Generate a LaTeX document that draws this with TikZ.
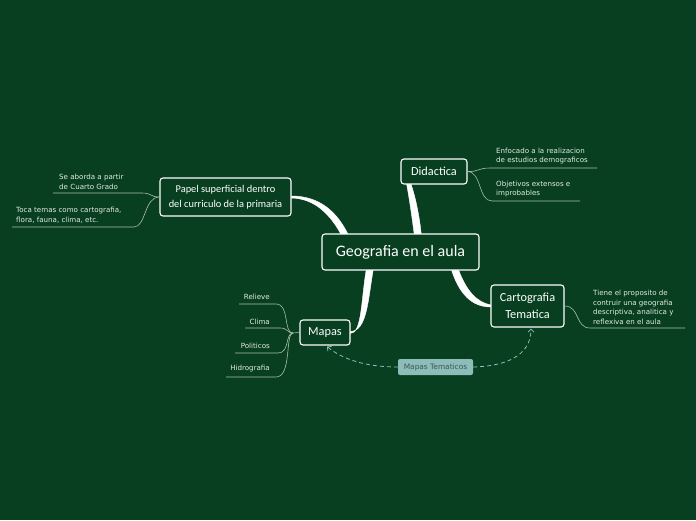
\documentclass[tikz,border=0pt]{standalone}
\usepackage{fontspec}
\setmainfont{DejaVu Sans}
\newfontfamily\hand{Carlito}
\usetikzlibrary{arrows.meta,calc}
\definecolor{bg}{HTML}{073F20}
\definecolor{leafline}{HTML}{A9BFA6}
\definecolor{leaftext}{HTML}{E4ECE2}
\definecolor{teal}{HTML}{8CBDB9}
\definecolor{tealtext}{HTML}{3E5656}
\tikzset{
  mainbox/.style={draw=white, line width=1.1pt, rounded corners=3pt, fill=bg, text=white, align=center, inner sep=1pt},
  leaf/.style={text=leaftext, align=left, inner sep=0pt, font=\fontsize{7.1}{9.5}\selectfont},
  leafr/.style={text=leaftext, align=right, inner sep=0pt, font=\fontsize{7.1}{9.5}\selectfont},
  branch/.style={fill=white, draw=white, line width=0.4pt},
  twig/.style={leafline, line width=0.6pt},
  dashlink/.style={teal, line width=0.8pt, dashed, dash pattern=on 4pt off 3pt, -{Straight Barb[length=3pt,width=6pt]}},
}
\begin{document}
\begin{tikzpicture}[x=1pt,y=-1pt]
\fill[bg] (0,0) rectangle (696,520);
\useasboundingbox (0,0) rectangle (696,520);

% main nodes (positions)
\coordinate (pc) at (400.5,252);
\coordinate (pp) at (225.5,197);
\coordinate (pd) at (434,171.5);
\coordinate (pt) at (527.5,306);
\coordinate (pm) at (325,332.5);

% invisible placeholders for branch anchors
\path (pc) node[minimum width=157pt, minimum height=36pt, inner sep=0pt] (c0) {};
\path (pp) node[minimum width=131pt, minimum height=38pt, inner sep=0pt] (p0) {};
\path (pd) node[minimum width=66pt, minimum height=25pt, inner sep=0pt] (d0) {};
\path (pt) node[minimum width=73pt, minimum height=42pt, inner sep=0pt] (t0) {};
\path (pm) node[minimum width=50pt, minimum height=25pt, inner sep=0pt] (m0) {};

\coordinate (cp) at ($(c0.north west)+(23,1)$);
\coordinate (cd) at ($(c0.north west)+(96,1)$);
\coordinate (ct) at ($(c0.south west)+(133,-1)$);
\coordinate (cm) at ($(c0.south west)+(48,-1)$);
\coordinate (dd) at ($(d0.west)+(4,1)$);

% tapered branches
\path[branch] ($(p0.east)+(0,-1)$) .. controls (320,196) and (337,212) .. ($(cp)+(3.5,0)$)
  -- ($(cp)+(-3.5,0)$) .. controls (331,216) and (316,198.5) .. ($(p0.east)+(0,1)$) -- cycle;
\path[branch] ($(dd)+(1,0)$) .. controls (412,182) and (419,210) .. ($(cd)+(3.5,0)$)
  -- ($(cd)+(-3.5,0)$) .. controls (411,210) and (407,182) .. ($(dd)+(-1,0)$) -- cycle;
\path[branch] ($(ct)+(-3.5,0)$) .. controls (459,294) and (472,307) .. ($(t0.west)+(0,1)$)
  -- ($(t0.west)+(0,-1)$) .. controls (476,302) and (466,290) .. ($(ct)+(3.5,0)$) -- cycle;
\path[branch] ($(cm)+(-3.5,0)$) .. controls (361,300) and (362,333.5) .. ($(m0.east)+(0,1)$)
  -- ($(m0.east)+(0,-1)$) .. controls (367,331.5) and (368,300) .. ($(cm)+(3.5,0)$) -- cycle;

\node[mainbox, minimum width=157pt, minimum height=36pt, font=\hand\fontsize{16}{18}\selectfont] (center) at (pc) {Geografia en el aula};
\node[mainbox, minimum width=131pt, minimum height=38pt, font=\hand\fontsize{10.4}{14.5}\selectfont] (papel) at (pp) {Papel superficial dentro\\del curriculo de la primaria};
\node[mainbox, minimum width=66pt, minimum height=25pt, font=\hand\fontsize{12.3}{14}\selectfont] (did) at (pd) {Didactica};
\node[mainbox, minimum width=73pt, minimum height=42pt, font=\hand\fontsize{12.3}{16.5}\selectfont] (carto) at (pt) {Cartografia\\Tematica};
\node[mainbox, minimum width=50pt, minimum height=25pt, font=\hand\fontsize{12.3}{14}\selectfont] (mapas) at (pm) {Mapas};

% Papel leaves
\node[leaf, anchor=south west] (l1) at (59,189.5) {Se aborda a partir\\de Cuarto Grado};
\coordinate (u1a) at (53,193);
\node[leaf, anchor=south west] (l2) at (16,223.5) {Toca temas como cartografia,\\flora, fauna, clima, etc.};
\coordinate (u2a) at (12,227);
\draw[twig] (u1a) -- (142,193) .. controls (152,193) and (150,197) .. (papel.west);
\draw[twig] (u2a) -- (134,227) .. controls (146,227) and (144,197) .. (papel.west);

% Didactica leaves
\node[leaf, anchor=south west] (l3) at (496,164.5) {Enfocado a la realizacion\\de estudios demograficos};
\coordinate (u3b) at (597,168);
\node[leaf, anchor=south west] (l4) at (496,197.5) {Objetivos extensos e\\improbables};
\coordinate (u4b) at (580,201);
\draw[twig] (did.east) .. controls (478,172) and (478,168) .. (490,168) -- (u3b);
\draw[twig] (did.east) .. controls (482,172) and (478,201) .. (492,201) -- (u4b);

% Cartografia leaf
\node[leaf, anchor=south west] (l5) at (593,324.5) {Tiene el proposito de\\contruir una geografia\\descriptiva, analitica y\\reflexiva en el aula};
\coordinate (u5b) at (685,328);
\draw[twig] (carto.east) .. controls (580,306) and (575,328) .. (590,328) -- (u5b);

% Mapas leaves
\coordinate (mj) at (293,333);
\draw[twig] (mj) -- (mapas.west);
\node[leafr, anchor=south east] (r1) at (270,300) {Relieve};
\node[leafr, anchor=south east] (r2) at (270,324.5) {Clima};
\node[leafr, anchor=south east] (r3) at (270,348.5) {Politicos};
\node[leafr, anchor=south east] (r4) at (270,372.5) {Hidrografia};
\draw[twig] (239,304) -- (276,304) .. controls (290,304) and (283,333) .. (mj);
\draw[twig] (245,328) -- (280,328) .. controls (288,328) and (287,333) .. (mj);
\draw[twig] (235,353) -- (278,353) .. controls (290,353) and (285,333) .. (mj);
\draw[twig] (226,377) -- (276,377) .. controls (292,377) and (285,333) .. (mj);

% Mapas Tematicos relation
\node[fill=teal, rounded corners=2pt, minimum width=75pt, minimum height=16pt, inner sep=0pt, text=tealtext, font=\fontsize{7.4}{8}\selectfont] (mt) at (435.5,367) {Mapas Tematicos};
\draw[dashlink] (mt.west) .. controls (372,367) and (346,362) .. ($(mapas.south)+(2,1)$);
\draw[dashlink] (mt.east) .. controls (512,366) and (531,352) .. ($(carto.south)+(3.5,1)$);
\end{tikzpicture}
\end{document}
